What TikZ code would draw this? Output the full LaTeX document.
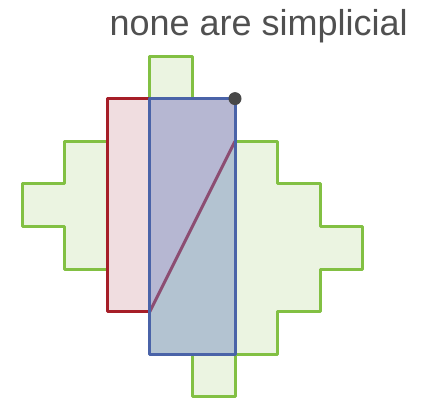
\documentclass[tikz,border=0pt]{standalone}
\usepackage{fontspec}
\setmainfont{Liberation Sans}
\definecolor{gfill}{HTML}{EBF4E1}
\definecolor{gline}{HTML}{82C043}
\definecolor{pfill}{HTML}{F0DDE0}
\definecolor{rline}{HTML}{A61E28}
\definecolor{ufill}{HTML}{B6B7D2}
\definecolor{bfill}{HTML}{B3C3D1}
\definecolor{bline}{HTML}{4A63A8}
\definecolor{dline}{HTML}{8C4D72}
\definecolor{tgray}{HTML}{505050}
\begin{document}
\begin{tikzpicture}[x=1pt,y=-1pt,
  outl/.style={line width=3pt,line join=round},
  titletext/.style={text=tgray,font=\fontsize{36}{40}\selectfont,inner sep=0pt}]
\useasboundingbox (0,0) rectangle (421,399);
\node[titletext,anchor=base east] (t) at (408,35) {none are simplicial};
\begin{scope}[shift={(22,56)},x=42.6pt,y=-42.6pt]
  % green staircase
  \fill[gfill] (3,0)--(4,0)--(4,1)--(5,1)--(5,2)--(6,2)--(6,3)--(7,3)--(7,4)--(8,4)--(8,5)--(7,5)--(7,6)--(6,6)--(6,7)--(5,7)--(5,8)--(4,8)--(4,7)--(3,7)--(3,6)--(2,6)--(2,5)--(1,5)--(1,4)--(0,4)--(0,3)--(1,3)--(1,2)--(2,2)--(2,1)--(3,1)--cycle;
  \draw[outl,gline] (3,1)--(3,0)--(4,0)--(4,1);
  \draw[outl,gline] (5,2)--(6,2)--(6,3)--(7,3)--(7,4)--(8,4)--(8,5)--(7,5)--(7,6)--(6,6)--(6,7)--(5,7)--(5,8)--(4,8)--(4,7);
  \draw[outl,gline] (2,5)--(1,5)--(1,4)--(0,4)--(0,3)--(1,3)--(1,2)--(2,2);
  % red rectangle
  \fill[pfill] (2,1) rectangle (3,6);
  \draw[outl,rline] (3,1)--(2,1)--(2,6)--(3,6);
  % blue rectangle halves
  \fill[bfill] (3,1) rectangle (5,7);
  \fill[ufill] (3,1)--(5,1)--(5,2)--(3,6)--cycle;
  \draw[line width=3pt,dline] (3,6)--(5,2);
  \draw[outl,bline] (3,1) rectangle (5,7);
  \fill[tgray!90!black] (5,1) circle (6.5pt);
\end{scope}
\end{tikzpicture}
\end{document}
